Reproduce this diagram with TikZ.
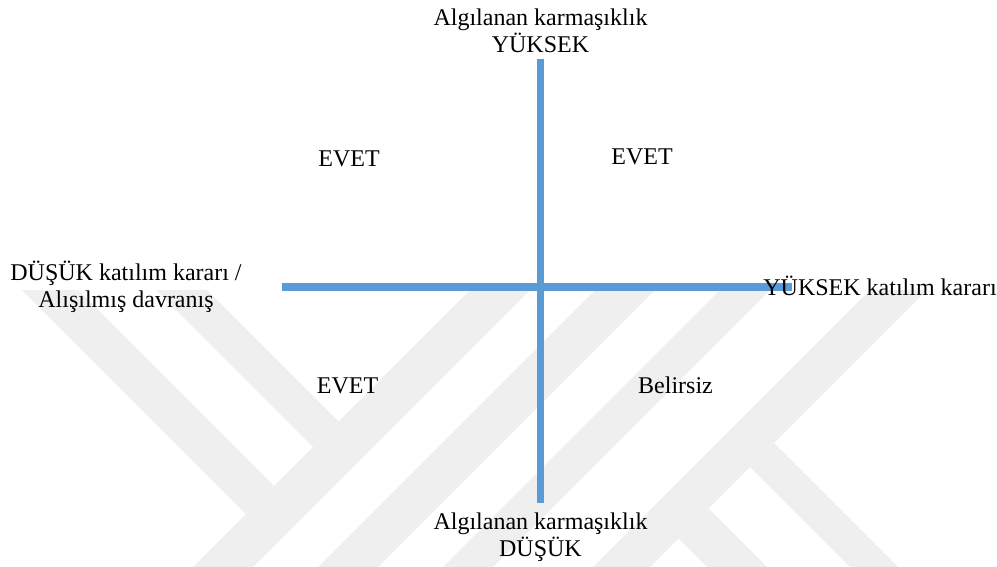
\documentclass[tikz,border=0pt]{standalone}
\usepackage{fontspec}
\setmainfont{Liberation Serif}
\usepackage{tikz}
\usetikzlibrary{positioning}
\definecolor{axisblue}{RGB}{91, 155, 213}
\definecolor{markgray}{RGB}{239, 239, 239}
\tikzset{
    axisline/.style={draw=axisblue, line width=3.8pt},
    poletext/.style={align=center, inner sep=0pt, font=\fontsize{12}{13.5}\selectfont},
    quadtext/.style={anchor=base, inner sep=0pt, font=\fontsize{12}{13.5}\selectfont},
    markband/.style={fill=markgray, draw=none}
}

\begin{document}
\begin{tikzpicture}[x=0.5pt, y=-0.5pt]
    \useasboundingbox (0,0) rectangle (997,567);
    \begin{scope}
        \clip (0,290) rectangle (997,567);
        \foreach \a/\b in {760/820, 885/945, 1010/1060, 1160/1217}
            \fill[markband] ({\a-290},290) -- ({\b-290},290) -- ({\b-567},567) -- ({\a-567},567) -- cycle;
        \fill[markband] (22,290) -- (78,290) -- (274,486) -- (246,514) -- cycle;
        \fill[markband] (156,290) -- (207,290) -- (338.5,421.5) -- (313,447) -- cycle;
        \fill[markband] (750,467) -- (774,443) -- (898,567) -- (850,567) -- cycle;
        \fill[markband] (678.5,538.5) -- (708.5,508.5) -- (767,567) -- (707,567) -- cycle;
    \end{scope}

    \coordinate (ytop) at (540.5,59);
    \coordinate (ybot) at (540.5,503);
    \coordinate (xleft) at (282,287);
    \coordinate (xright) at (792,287);
    \draw[axisline] (ytop) -- (ybot);
    \draw[axisline] (xleft) -- (xright);

    \node[poletext, above=3pt of ytop] (highcx) {Algılanan karmaşıklık\\YÜKSEK};
    \node[poletext, below=4.8pt of ybot] (lowcx) {Algılanan karmaşıklık\\DÜŞÜK};
    \node[poletext] (lowinv) at (126,287) {DÜŞÜK katılım kararı /\\Alışılmış davranış};
    \node[quadtext, anchor=base west] (highinv) at (763,295) {YÜKSEK katılım kararı};

    \node[quadtext] (q1) at (349,167) {EVET};
    \node[quadtext] (q2) at (642,165) {EVET};
    \node[quadtext] (q3) at (347.5,393) {EVET};
    \node[quadtext] (q4) at (675.5,393) {Belirsiz};
\end{tikzpicture}
\end{document}
